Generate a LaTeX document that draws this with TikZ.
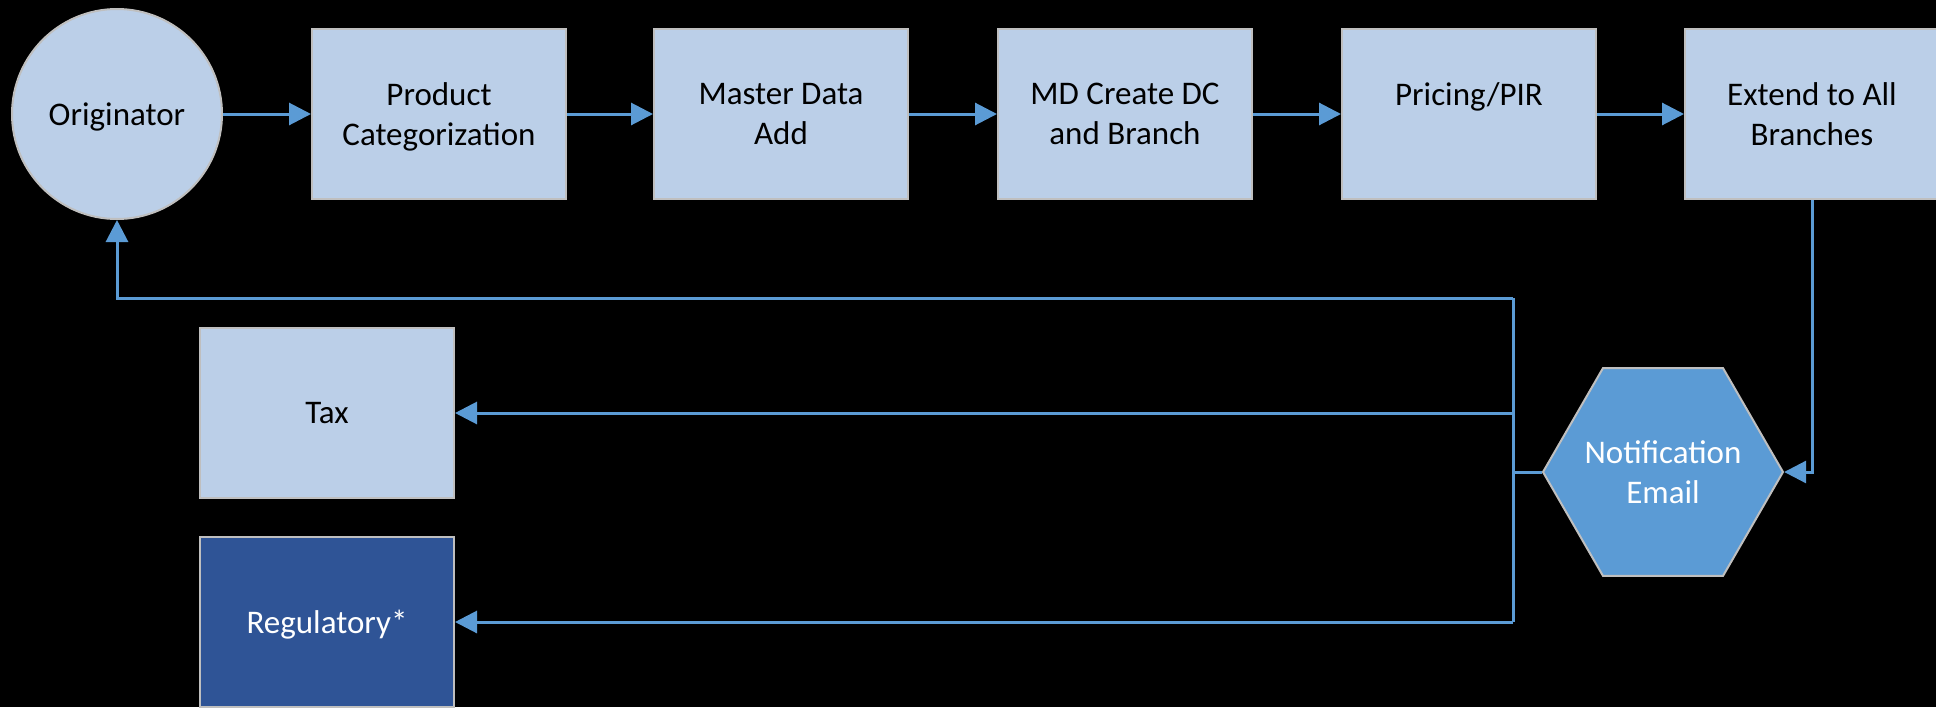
\documentclass[tikz,border=0pt]{standalone}
\usepackage{fontspec}
\setmainfont{Carlito}
\usetikzlibrary{arrows.meta,shapes.geometric,calc}
\definecolor{boxfill}{RGB}{187,207,232}
\definecolor{boxborder}{RGB}{191,191,191}
\definecolor{hexfill}{RGB}{91,155,213}
\definecolor{regfill}{RGB}{47,84,150}
\definecolor{flow}{RGB}{91,155,213}
\tikzset{
  txt/.style={font=\fontsize{33}{39.5}\selectfont, align=center, text depth=0pt},
  procbox/.style={txt, rectangle, draw=boxborder, line width=2pt, fill=boxfill,
    minimum width=254pt, minimum height=170pt, inner sep=0pt, text=black},
  origcirc/.style={txt, circle, draw=boxborder, line width=2pt, fill=boxfill,
    minimum size=210pt, inner sep=0pt, text=black},
  hexnode/.style={regular polygon, regular polygon sides=6, draw=boxborder,
    line width=2pt, fill=hexfill, minimum size=240pt, inner sep=0pt},
  hextext/.style={txt, inner sep=0pt, text=white},
  regbox/.style={procbox, fill=regfill, text=white},
  flowline/.style={draw=flow, line width=3pt},
  flowarrow/.style={flowline, -{Triangle[length=22pt,width=22pt]}},
}
\begin{document}
\begin{tikzpicture}[x=1pt,y=-1pt]
\useasboundingbox (0,0) rectangle (1936,707);
\fill[black] (0,0) rectangle (1936,707);

\node[origcirc] (orig) at (117,114) {Originator};
\node[procbox] (pc)  at (439,114)  {Product\\Categorization};
\node[procbox] (mda) at (781,114)  {Master Data\\Add};
\node[procbox] (mdc) at (1125,114) {MD Create DC\\and Branch};
\node[procbox] (pir) at (1469,114) {Pricing/PIR\\\strut};
\node[procbox] (ext) at (1812,114) {Extend to All\\Branches};

\node[procbox] (tax) at (327,413) {Tax};
\node[regbox]  (reg) at (327,622) {Regulatory*};

\node[hexnode] (notif) at (1663,472) {};
\node[hextext] (notiftxt) at (notif.center) {Notification\\Email};

\coordinate (busm)   at (1513,472);
\coordinate (bustop) at (1513,298);
\coordinate (bustax) at (1513,413);
\coordinate (busbot) at (1513,622);

\draw[flowarrow] (orig.east) -- (pc.west);
\draw[flowarrow] (pc.east) -- (mda.west);
\draw[flowarrow] (mda.east) -- (mdc.west);
\draw[flowarrow] (mdc.east) -- (pir.west);
\draw[flowarrow] (pir.east) -- (ext.west);
\draw[flowarrow] (ext.south) |- (notif.east);

\draw[flowline] (notif.west) -- (busm);
\draw[flowline] (bustop) -- (busbot);
\draw[flowarrow] (bustop) -| (orig.south);
\draw[flowarrow] (bustax) -- (tax.east);
\draw[flowarrow] (busbot) -- (reg.east);
\end{tikzpicture}
\end{document}
